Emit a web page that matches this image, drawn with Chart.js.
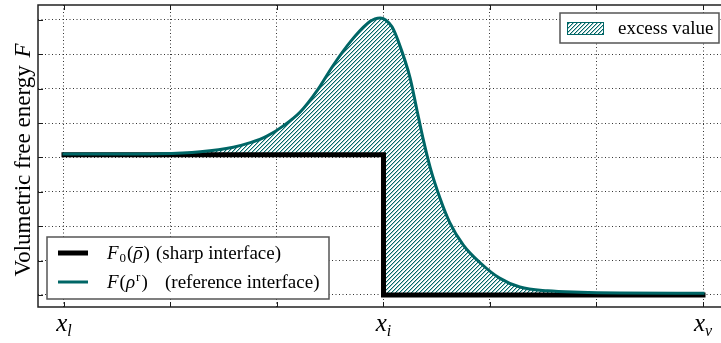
<!DOCTYPE html>
<html>
<head>
<meta charset="utf-8">
<script src="https://cdn.jsdelivr.net/npm/chart.js@4/dist/chart.umd.min.js"></script>
<style>
  html, body { margin: 0; padding: 0; background: #ffffff; }
  #wrap { width: 721px; height: 343px; }
</style>
</head>
<body>
<div id="wrap"><canvas id="c" width="721" height="343"></canvas></div>
<script>
// Position along the interface (x_l = 0, x_i = 3, x_v = 6)
const curveX = [0, 0.5, 0.9, 1.28, 1.59, 1.75, 1.91, 2.06, 2.22, 2.38, 2.53, 2.69, 2.85, 2.92, 2.97, 3.02, 3.08, 3.14, 3.25, 3.31, 3.37, 3.44, 3.53, 3.62, 3.75, 3.91, 4.09, 4.28, 4.54, 4.85, 5.22, 6.0];
// Volumetric free energy of the reference (diffuse) interface
const curveY = [4.1, 4.1, 4.11, 4.17, 4.30, 4.43, 4.63, 4.92, 5.33, 5.96, 6.69, 7.37, 7.9, 8.03, 8.06, 8.0, 7.8, 7.37, 6.31, 5.44, 4.57, 3.69, 2.82, 2.12, 1.45, 0.93, 0.49, 0.23, 0.12, 0.08, 0.06, 0.05];
// Sharp interface: constant level up to x_i, then zero
const stepX = [0, 3, 3.0001, 6.0];
const stepY = [4.08, 4.08, 0, 0];

const xTicks = [0, 1, 2, 3, 4, 5, 6];
const yTicks = [0, 1, 2, 3, 4, 5, 6, 7, 8];
const xTickLabels = [
  { value: 0, main: 'x', sub: 'l' },
  { value: 3, main: 'x', sub: 'i' },
  { value: 6, main: 'x', sub: 'v' }
];
const yTitle = 'Volumetric free energy ';
const yTitleSymbol = 'F';
const legendExcess = 'excess value';
const legendSharp = '(sharp interface)';
const legendReference = '(reference interface)';

const TEAL = '#006666';
const SERIF = '"Liberation Serif", "DejaVu Serif", serif';

const canvas = document.getElementById('c');
const ctx = canvas.getContext('2d');

// crisp "////" hatch tile, one diagonal per 4 px
function hatchPattern() {
  const t = document.createElement('canvas');
  t.width = 4; t.height = 4;
  const g = t.getContext('2d');
  g.fillStyle = '#ffffff';
  g.fillRect(0, 0, 4, 4);
  for (let k = 0; k < 4; k++) {
    g.fillStyle = 'rgba(0,102,102,1)';
    g.fillRect(3 - k, k, 1, 1);
    g.fillStyle = 'rgba(0,102,102,0.35)';
    g.fillRect((4 - k) % 4, k, 1, 1);
  }
  return ctx.createPattern(t, 'repeat');
}
const hatch = hatchPattern();

// draw a sequence of text runs: {t, font, dy}
function drawRuns(c, runs, x, y) {
  let cx = x;
  for (const r of runs) {
    c.font = r.font;
    c.fillText(r.t, cx, y + (r.dy || 0));
    const w = c.measureText(r.t).width;
    if (r.bar) {
      c.save();
      c.lineWidth = 1;
      c.strokeStyle = '#000';
      c.beginPath();
      c.moveTo(cx + 2, y - 11.5);
      c.lineTo(cx + w + 0.5, y - 11.5);
      c.stroke();
      c.restore();
    }
    cx += w + (r.after || 0);
  }
  return cx;
}
function runsWidth(c, runs) {
  let w = 0;
  for (const r of runs) {
    c.font = r.font;
    w += c.measureText(r.t).width + (r.after || 0);
  }
  return w;
}

const framePlugin = {
  id: 'frame',
  afterDatasetsDraw(chart) {
    const c = chart.ctx;
    const a = chart.chartArea;
    const xs = chart.scales.x, ys = chart.scales.y;
    c.save();
    c.strokeStyle = '#1a1a1a';
    c.lineWidth = 1;
    c.beginPath();
    for (const v of xTicks) {
      const px = Math.round(xs.getPixelForValue(v)) + 0.5;
      c.moveTo(px, a.bottom); c.lineTo(px, a.bottom - 5);
      c.moveTo(px, a.top); c.lineTo(px, a.top + 5);
    }
    for (const v of yTicks) {
      const py = Math.round(ys.getPixelForValue(v)) + 0.5;
      c.moveTo(a.left, py); c.lineTo(a.left + 5, py);
    }
    c.stroke();
    c.lineWidth = 1.5;
    c.strokeStyle = '#222';
    c.beginPath();
    c.moveTo(a.right + 2, a.top); c.lineTo(a.left, a.top);
    c.lineTo(a.left, a.bottom); c.lineTo(a.right + 2, a.bottom);
    c.stroke();
    c.restore();
  },
  afterDraw(chart) {
    const c = chart.ctx;
    const xs = chart.scales.x;
    c.save();
    c.fillStyle = '#000';
    c.textBaseline = 'alphabetic';

    // x tick labels
    for (const lab of xTickLabels) {
      const runs = [
        { t: lab.main, font: 'italic 25px ' + SERIF },
        { t: lab.sub, font: 'italic 16px ' + SERIF, dy: 5 }
      ];
      const w = runsWidth(c, runs);
      drawRuns(c, runs, xs.getPixelForValue(lab.value) - w / 2, 331);
    }

    // y axis title
    c.save();
    c.translate(22, 160);
    c.rotate(-Math.PI / 2);
    const yRuns = [
      { t: yTitle, font: '23px ' + SERIF, after: 2 },
      { t: yTitleSymbol, font: 'italic 23px ' + SERIF }
    ];
    const yw = runsWidth(c, yRuns);
    drawRuns(c, yRuns, -yw / 2, 8);
    c.restore();

    // legend: excess value
    c.fillStyle = '#fff';
    c.fillRect(560, 13, 159, 30);
    c.strokeStyle = '#555';
    c.lineWidth = 1.5;
    c.strokeRect(560, 13, 159, 30);
    c.fillStyle = hatch;
    c.fillRect(567.5, 22.5, 36, 12);
    c.strokeStyle = TEAL;
    c.lineWidth = 1;
    c.strokeRect(567.5, 22.5, 36, 12);
    c.fillStyle = '#000';
    c.font = '19px ' + SERIF;
    c.fillText(legendExcess, 618, 34);

    // legend: interface curves
    c.fillStyle = '#fff';
    c.fillRect(47, 237, 282, 62);
    c.strokeStyle = '#555';
    c.lineWidth = 1.5;
    c.strokeRect(47, 237, 282, 62);
    c.lineCap = 'butt';
    c.strokeStyle = '#000';
    c.lineWidth = 5;
    c.beginPath(); c.moveTo(58, 253); c.lineTo(88, 253); c.stroke();
    c.strokeStyle = TEAL;
    c.lineWidth = 3;
    c.beginPath(); c.moveTo(58, 282); c.lineTo(88, 282); c.stroke();

    c.fillStyle = '#000';
    const r1 = [
      { t: 'F', font: 'italic 19px ' + SERIF, after: 1 },
      { t: '0', font: '13px ' + SERIF, dy: 3, after: 1 },
      { t: '(', font: '19px ' + SERIF },
      { t: 'ρ', font: 'italic 19px ' + SERIF, bar: true, after: 1 },
      { t: ')', font: '19px ' + SERIF }
    ];
    drawRuns(c, r1, 107, 259);
    c.font = '19px ' + SERIF;
    c.fillText(legendSharp, 156, 259);

    const r2 = [
      { t: 'F', font: 'italic 19px ' + SERIF, after: 1 },
      { t: '(', font: '19px ' + SERIF },
      { t: 'ρ', font: 'italic 19px ' + SERIF, after: 1 },
      { t: 'r', font: '13px ' + SERIF, dy: -7, after: 1 },
      { t: ')', font: '19px ' + SERIF }
    ];
    drawRuns(c, r2, 107, 288);
    c.font = '19px ' + SERIF;
    c.fillText(legendReference, 165, 288);
    c.restore();
  }
};

const gridStyle = {
  color: 'rgba(0,0,0,0.8)',
  lineWidth: 1,
  drawTicks: false
};

new Chart(canvas, {
  type: 'line',
  data: {
    datasets: [
      {
        label: 'F(ρr)',
        data: curveX.map((x, i) => ({ x: x, y: curveY[i] })),
        borderColor: TEAL,
        borderWidth: 3,
        cubicInterpolationMode: 'monotone',
        pointRadius: 0,
        borderCapStyle: 'square',
        fill: 1,
        backgroundColor: hatch
      },
      {
        label: 'F0',
        data: stepX.map((x, i) => ({ x: x, y: stepY[i] })),
        borderColor: '#000',
        borderWidth: 5,
        pointRadius: 0,
        tension: 0,
        borderCapStyle: 'square',
        borderJoinStyle: 'miter',
        fill: false
      }
    ]
  },
  options: {
    responsive: false,
    animation: false,
    devicePixelRatio: 1,
    layout: { padding: { left: 38, right: 0, top: 5, bottom: 36 } },
    plugins: {
      legend: { display: false },
      tooltip: { enabled: false },
      filler: { drawTime: 'beforeDatasetsDraw' }
    },
    scales: {
      x: {
        type: 'linear',
        min: -0.244,
        max: 6.169,
        ticks: { display: false },
        grid: gridStyle,
        border: { display: false, dash: [1, 2.5] },
        afterBuildTicks: s => { s.ticks = xTicks.map(v => ({ value: v })); },
        afterFit: s => { s.height = 0; }
      },
      y: {
        type: 'linear',
        min: -0.35,
        max: 8.436,
        ticks: { display: false },
        grid: gridStyle,
        border: { display: false, dash: [1, 2.5] },
        afterBuildTicks: s => { s.ticks = yTicks.map(v => ({ value: v })); },
        afterFit: s => { s.width = 0; }
      }
    }
  },
  plugins: [framePlugin]
});
</script>
</body>
</html>
